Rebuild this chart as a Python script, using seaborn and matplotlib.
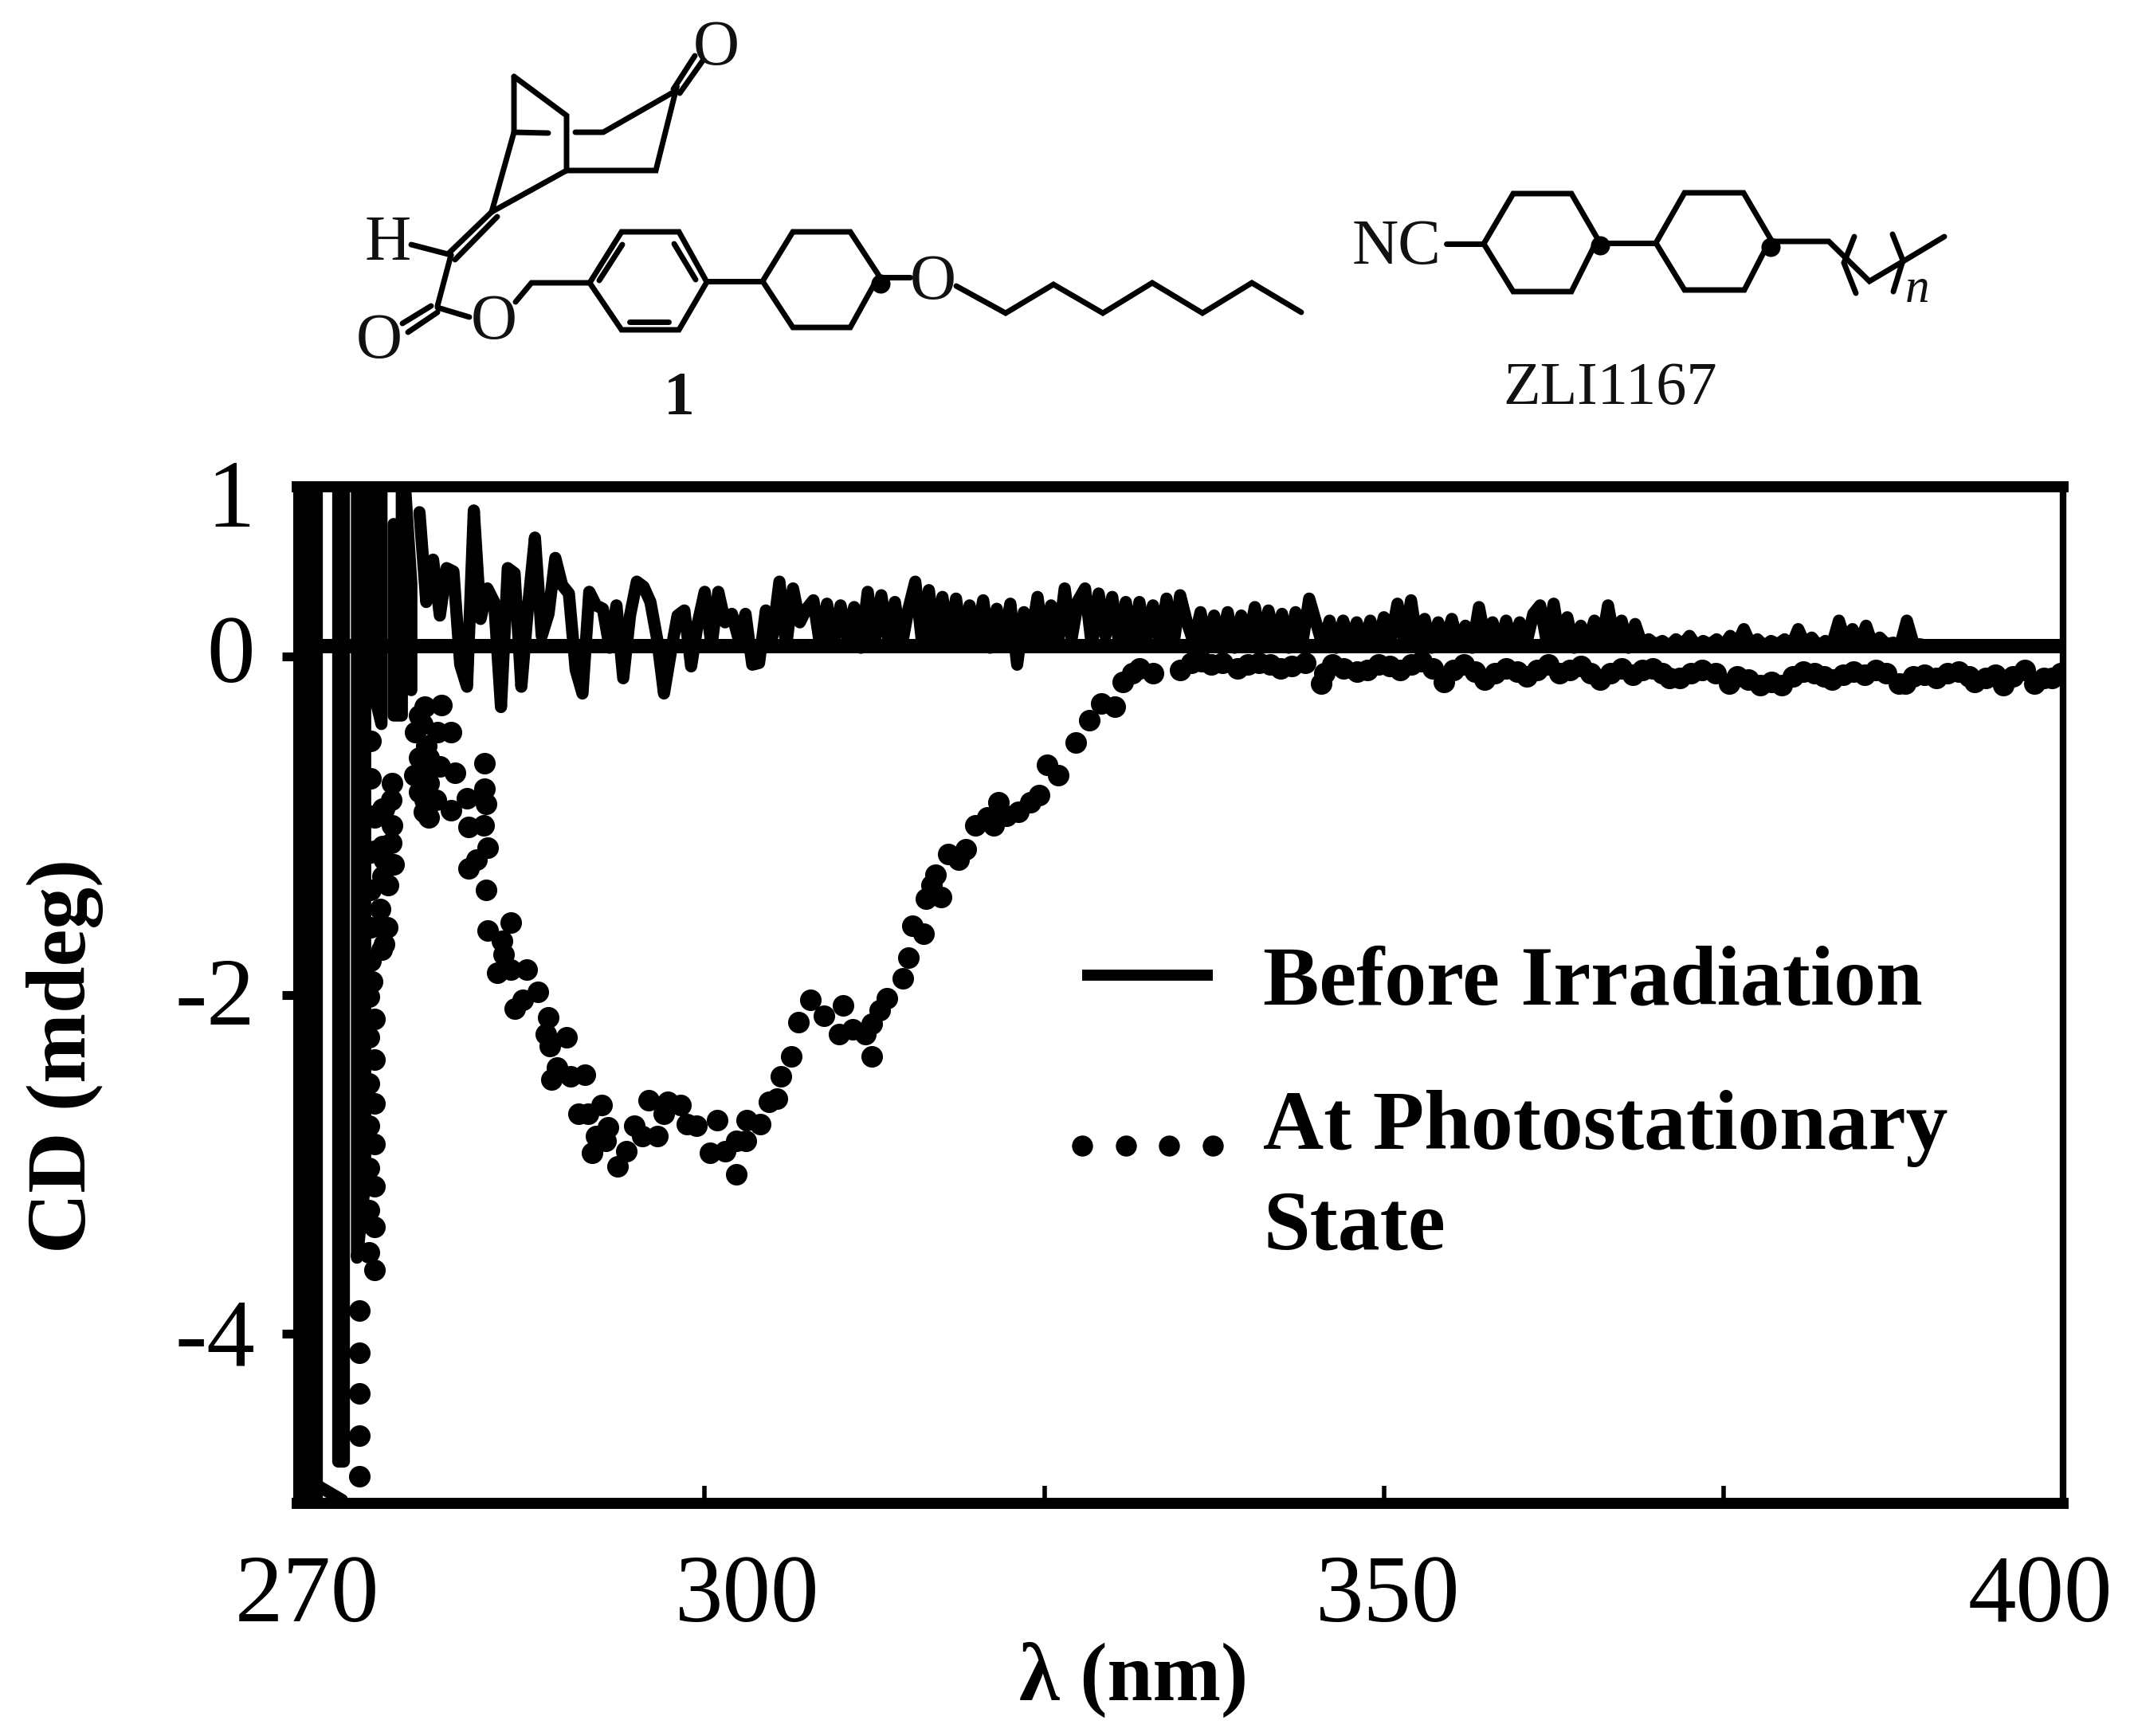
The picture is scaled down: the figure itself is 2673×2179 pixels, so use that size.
import numpy as np
import pandas as pd
import matplotlib
matplotlib.use("Agg")
import matplotlib.pyplot as plt
import seaborn as sns
from matplotlib.lines import Line2D
from matplotlib.legend_handler import HandlerLine2D
from matplotlib.transforms import ScaledTranslation, Affine2D

# ---------- data ----------
noise_start = 279.0
noise_step = 0.5
noise_y = [
 .85,.32,.57,.24,.52,.50,-.05,-.18,.86,.22,.40,.32,-.30,.52,.49,-.18,.30,.70,.12,.25,
 .58,.42,.37,-.08,-.22,.38,.30,.28,.05,.30,-.13,.24,.44,.41,.32,.10,-.22,.02,.24,.27,
 -.06,.20,.38,.06,.38,.20,.25,.10,.25,-.05,-.04,.27,.12,.44,.06,.40,.20,.28,.33,.06,
 .31,.08,.30,.10,.29,.05,.38,.08,.36,.10,.32,.06,.28,.44,.08,.39,.06,.35,.08,.34,
 .06,.30,.10,.33,.05,.28,.08,.31,-.05,.26,.10,.35,.06,.30,.08,.40,.10,.33,.40,.06,
 .37,.12,.35,.08,.32,.06,.32,.10,.30,.08,.34,.06,.36,.20,.08,.26,.06,.24,.08,.26,
 .05,.24,.08,.29,.06,.27,.10,.25,.05,.26,.08,.34,.20,.06,.21,.05,.21,.08,.20,.06,
 .21,.06,.23,.10,.31,.08,.33,.06,.22,.05,.20,.08,.22,.06,.18,.05,.29,.08,.20,.06,
 .21,.06,.20,.08,.25,.30,.08,.31,.06,.23,.05,.18,.08,.21,.06,.30,.08,.21,.05,.19,
 .07,.10,.07,.09,.06,.10,.07,.12,.06,.09,.07,.10,.06,.12,.07,.16,.07,.10,.06,.09,
 .07,.10,.06,.16,.07,.11,.06,.09,.07,.21,.08,.16,.07,.18,.06,.11,.07,.08,.06,.21,
 .07,.07,.06,.06,.06,.06,.06,.06,.06,.06,.06,.06,.06,.06,.06,.06,.06,.06,.06,.06,.06,.06,.06,
]
noise_x = [noise_start + noise_step * i for i in range(len(noise_y))]

spike1_x = [270.3, 270.3, 270.9, 270.9, 271.4, 271.4]
spike1_y = [1.3, -5.2, -5.2, 1.3, 1.3, -5.2]
spike2_x = [273.0, 273.0, 273.4, 273.4]
spike2_y = [1.3, -4.75, -4.75, 1.3]
spike3_x = [274.4, 274.4, 275.0, 275.0, 275.6, 275.6, 276.2, 276.2]
spike3_y = [1.3, -3.55, -3.1, 1.3, 1.3, -0.2, -0.4, 1.3]
spike4_x = [277.1, 277.1, 277.7, 277.7, 278.4, 278.4]
spike4_y = [0.78, -0.35, -0.35, 1.3, 0.43, -0.2]
tail_x = [270.0, 271.6, 273.3]
tail_y = [-4.96, -4.90, -4.98]
baseline_value = 0.06

dots_x = [
 274.6,274.6,274.6,274.6,274.6,275.3,275.7,275.3,275.7,275.3,275.7,275.3,275.7,275.3,275.7,
 275.3,275.7,275.3,275.7,275.5,276.2,276.1,277.1,277.0,277.0,279.3,279.4,279.4,279.5,279.2,279.4,
 276.3,276.3,276.3,276.2,275.7,275.7,278.6,278.7,
 275.4,275.4,275.4,275.4,275.4,275.4,275.4,276.4,276.4,276.4,276.9,276.9,276.7,276.6,
 279.0,279.0,279.0,279.7,279.7,279.7,280.3,280.5,280.2,
 280.6,281.3,281.6,281.3,282.5,282.6,282.6,283.2,283.7,283.8,283.8,283.9,283.9,284.0,
 284.0,284.7,285.1,285.2,285.7,285.7,286.0,286.6,286.9,287.7,288.3,288.5,288.6,288.7,289.1,
 289.8,290.1,290.7,291.2,291.4,291.7,292.0,292.4,292.7,292.9,293.6,294.2,294.8,295.4,295.9,
 296.5,297.0,297.3,298.2,298.7,299.4,300.4,300.9,301.5,302.3,302.3,303.0,303.1,304.1,304.7,
 305.3,305.6,306.4,306.9,307.8,308.8,309.9,310.2,310.9,311.8,312.3,312.3,312.9,313.4,314.6,
 315.0,315.3,316.1,316.3,316.7,317.0,317.4,317.9,318.7,319.2,319.9,320.8,321.3,321.6,322.2,
 323.1,324.0,324.6,325.2,326.0,327.3,328.3,329.2,330.2,330.8,331.5,332.0,333.0,
 335,335.8,336.6,337.3,338.1,339.2,340,340.8,341.6,342.4,343.2,344.2,345.4,345.6,346.2,347,348,
 348.8,349.6,350.4,351.2,352,352.8,353.6,354.4,355.1,355.9,356.7,357.4,358.2,359,359.8,360.5,
 361.3,362.1,362.9,363.7,364.5,365.2,365.9,366.7,367.5,368.3,369,369.8,370.5,371,371.8,372.6,
 373.4,374.4,375.4,376,376.8,377.7,378.5,379.3,380.1,380.9,381.7,382.4,383,383.8,384.6,385.4,
 386.2,387,387.9,388.4,389,389.8,390.7,391.5,392.3,393.1,393.5,394.3,395,395.6,396.3,397.2,
 397.9,398.6,399.2,399.8,
]
dots_y = [
 -4.84,-4.60,-4.35,-4.11,-3.86,-3.52,-3.62,-3.27,-3.37,-3.02,-3.13,-2.77,-2.88,-2.52,-2.64,
 -2.25,-2.38,-2.01,-2.14,-1.92,-1.73,-1.49,-1.23,-1.00,-0.75,-0.92,-0.85,-0.64,-0.53,-0.40,-0.30,
 -0.90,-1.12,-1.30,-1.60,-1.15,-0.95,-0.70,-0.45,
 -0.50,-0.72,-0.94,-1.16,-1.38,-1.60,-1.80,-0.90,-1.20,-1.70,-0.85,-1.10,-1.35,-1.60,
 -0.35,-0.60,-0.80,-0.60,-0.75,-0.95,-0.45,-0.65,-0.85,
 -0.29,-0.45,-0.69,-0.91,-0.84,-1.01,-1.25,-1.20,-1.00,-0.63,-0.78,-0.87,-1.38,-1.13,
 -1.62,-1.87,-1.68,-1.76,-1.57,-1.85,-2.08,-2.03,-1.85,-1.98,-2.23,-2.13,-2.30,-2.50,-2.43,
 -2.25,-2.48,-2.70,-2.47,-2.70,-2.93,-2.83,-2.65,-2.86,-2.78,-3.01,-2.92,-2.77,-2.83,-2.62,
 -2.83,-2.70,-2.63,-2.65,-2.76,-2.77,-2.93,-2.74,-2.92,-2.86,-3.06,-2.86,-2.74,-2.76,-2.63,
 -2.61,-2.48,-2.36,-2.16,-2.03,-2.12,-2.23,-2.06,-2.20,-2.23,-2.36,-2.17,-2.09,-2.02,-1.90,
 -1.78,-1.59,-1.64,-1.43,-1.35,-1.29,-1.42,-1.17,-1.20,-1.14,-1.00,-0.95,-1.00,-0.86,-0.94,
 -0.92,-0.86,-0.82,-0.64,-0.70,-0.51,-0.38,-0.28,-0.30,-0.15,-0.10,-0.07,-0.10,
 -.08,-.04,-.03,-.05,-.04,-.07,-.05,-.04,-.05,-.07,-.06,-.04,-.16,-.10,-.05,-.07,-.09,
 -.08,-.05,-.06,-.08,-.05,-.03,-.07,-.15,-.08,-.05,-.09,-.14,-.10,-.07,-.09,-.12,
 -.08,-.05,-.10,-.08,-.06,-.10,-.14,-.10,-.07,-.11,-.08,-.07,-.10,-.13,-.13,-.10,
 -.08,-.10,-.16,-.12,-.14,-.17,-.15,-.17,-.12,-.09,-.10,-.12,-.14,-.11,-.09,-.11,
 -.08,-.10,-.16,-.16,-.12,-.11,-.13,-.10,-.09,-.12,-.15,-.13,-.11,-.17,-.12,-.08,
 -.16,-.13,-.13,-.10,
]

xtick_values = [270, 300, 325, 350, 375, 400]
xtick_labels = ['270', '300', '', '350', '', '400']
ytick_values = [1, 0, -2, -4]
ytick_labels = ['1', '0', '-2', '-4']

# ---------- structure drawing (pixel outlines) ----------
bonds = [
 [(645,96),(711,145),(711,214),(617,266)], [(645,96),(645,166),(617,266)],
 [(711,214),(823,214),(848,114),(757,166),(722,166)], [(645,166),(688,167)],
 [(845,112),(872,70)], [(853,117),(882,76)],
 [(617,266),(563,318)], [(624,272),(571,326)],
 [(516,307),(566,320)], [(566,320),(549,384)],
 [(541,384),(505,406)], [(549,392),(512,417)],
 [(549,386),(589,398)], [(647,379),(667,355),(740,355)],
 [(740,355),(780,291),(852,291),(887,354),(852,414),(780,414),(740,355)],
 [(752,352),(781,307)], [(846,306),(873,351)], [(790,404),(839,404)],
 [(887,353),(957,353)],
 [(957,353),(995,291),(1067,291),(1103,346),(1067,411),(995,411),(957,353)],
 [(1105,348),(1142,348)],
 [(1200,359),(1262,393),(1322,357),(1384,393),(1446,355),(1509,393),(1571,355),(1633,392)],
 [(1815,306),(1862,306)],
 [(1862,306),(1899,243),(1972,243),(2005,300),(1972,366),(1899,366),(1862,306)],
 [(2008,305),(2078,305)],
 [(2078,305),(2114,242),(2188,242),(2222,300),(2189,364),(2114,364),(2078,305)],
 [(2222,303),(2295,303),(2346,353),(2390,327),(2440,297)],
 [(2327,297),(2314,330),(2329,368)], [(2375,294),(2388,327),(2376,366)],
]
structure_labels = [
 ('O',899,62,58,'normal','normal'), ('H',487,307,58,'normal','normal'),
 ('O',476,430,58,'normal','normal'), ('O',620,405,58,'normal','normal'),
 ('O',1171,355,58,'normal','normal'), ('1',852,502,56,'bold','normal'),
 ('NC',1753,312,58,'normal','normal'), ('n',2406,364,44,'normal','italic'),
 ('ZLI1167',2021,488,55,'normal','normal'),
]
wedge_dots = [(1105,356),(2008,308),(2222,310)]

# ---------- figure ----------
sns.set_theme(style="white", rc={"text.color": "black", "axes.labelcolor": "black",
                                 "xtick.color": "black", "ytick.color": "black"})
plt.rcParams['font.family'] = ['Liberation Serif', 'DejaVu Serif']
W, H = 2673, 2179
fig = plt.figure(figsize=(W / 100, H / 100), dpi=100, facecolor='white')
L, R, T, B = 373, 2589, 611, 1887
ax = fig.add_axes([L / W, 1 - B / H, (R - L) / W, (B - T) / H])

lw_noise = 11
segments = [(spike1_x, spike1_y), (spike2_x, spike2_y), (spike3_x, spike3_y),
            (spike4_x, spike4_y), (tail_x, tail_y), (noise_x, noise_y)]
frames = []
for k, (sx, sy) in enumerate(segments):
    frames.append(pd.DataFrame({'nm': sx, 'cd': sy, 'seg': k, 'order': range(len(sx))}))
solid = pd.concat(frames, ignore_index=True)
sns.lineplot(data=solid, x='nm', y='cd', units='seg', estimator=None, sort=False,
             color='black', lw=lw_noise, ax=ax, legend=False, solid_joinstyle='round')
ax.axhline(baseline_value, color='black', lw=13, zorder=2)
sns.scatterplot(x=dots_x, y=dots_y, s=380, color='black', linewidth=0, ax=ax, legend=False, zorder=3)

ax.set_xlim(270, 400)
ax.set_ylim(-5, 1)
ax.set_xticks(xtick_values)
ax.set_xticklabels(xtick_labels, fontsize=87)
ax.set_yticks(ytick_values)
ax.set_yticklabels(ytick_labels, fontsize=87)
ax.tick_params(axis='x', bottom=True, direction='in', length=16, width=4, pad=46)
ax.tick_params(axis='y', left=True, direction='out', length=14, width=8, pad=24)
for s, lw in zip(['left', 'right', 'top', 'bottom'], [8, 6, 10, 10]):
    ax.spines[s].set_visible(True)
    ax.spines[s].set_linewidth(lw)
    ax.spines[s].set_color('black')

# individual label nudges (pixels) as in the hand-placed original
for lab, dx in zip(ax.get_xticklabels(), [12, 53, 0, 5, 0, -29]):
    lab.set_transform(lab.get_transform() + ScaledTranslation(dx / 100, 0, fig.dpi_scale_trans))
for lab, dy in zip(ax.get_yticklabels(), [-8, 10, 5, 3]):
    lab.set_transform(lab.get_transform() + ScaledTranslation(0, dy / 100, fig.dpi_scale_trans))
ax.yaxis.get_major_ticks()[0].tick1line.set_visible(False)
xt = ax.xaxis.get_major_ticks()
xt[0].tick1line.set_visible(False); xt[-1].tick1line.set_visible(False)

ax.set_xlabel('λ (nm)', fontsize=74, fontweight='bold', va='center')
ax.xaxis.set_label_coords((1423 - L) / (R - L), (B - 2108) / (B - T))
ax.set_ylabel('CD (mdeg)', fontsize=76, fontweight='bold', va='center')
ax.yaxis.set_label_coords((82 - L) / (R - L), (B - 1325) / (B - T))

# legend
class ShiftedHandler(HandlerLine2D):
    def __init__(self, dy, **kw):
        super().__init__(**kw)
        self.dy = dy
    def create_artists(self, legend, orig_handle, xdescent, ydescent, width, height, fontsize, trans):
        return super().create_artists(legend, orig_handle, xdescent, ydescent, width, height,
                                      fontsize, Affine2D().translate(0, self.dy) + trans)

h_line = Line2D([], [], color='black', lw=10, solid_capstyle='butt')
h_dots = Line2D([], [], color='black', ls='none', marker='o', ms=18)
leg = ax.legend([h_line, h_dots], ['Before Irradiation', 'At Photostationary\nState'],
                handler_map={h_dots: ShiftedHandler(30, numpoints=4, marker_pad=0.0)},
                loc='upper left', bbox_to_anchor=((1358 - L) / (R - L), (B - 1187) / (B - T)),
                frameon=False, handlelength=1.55, handletextpad=0.6, labelspacing=0.8,
                borderpad=0, borderaxespad=0,
                prop={'family': 'Liberation Serif', 'weight': 'bold', 'size': 76})
leg.get_texts()[1].set_linespacing(1.38)
leg.set_zorder(5)

# chemical structures overlaid in pixel space
ov = fig.add_axes([0, 0, 1, 1], facecolor='none')
ov.set_xlim(0, W)
ov.set_ylim(H, 0)
ov.axis('off')
for b in bonds:
    bx, by = zip(*b)
    ov.plot(bx, by, color='black', lw=5, solid_joinstyle='miter', solid_capstyle='round')
for tx, px, py, fs, wt, st in structure_labels:
    ov.text(px, py, tx, fontsize=fs, fontweight=wt, fontstyle=st, ha='center', va='center', color='#111111')
ov.scatter(*zip(*wedge_dots), s=300, color='black', linewidth=0)

fig.savefig('out.png', dpi=100, facecolor='white')
